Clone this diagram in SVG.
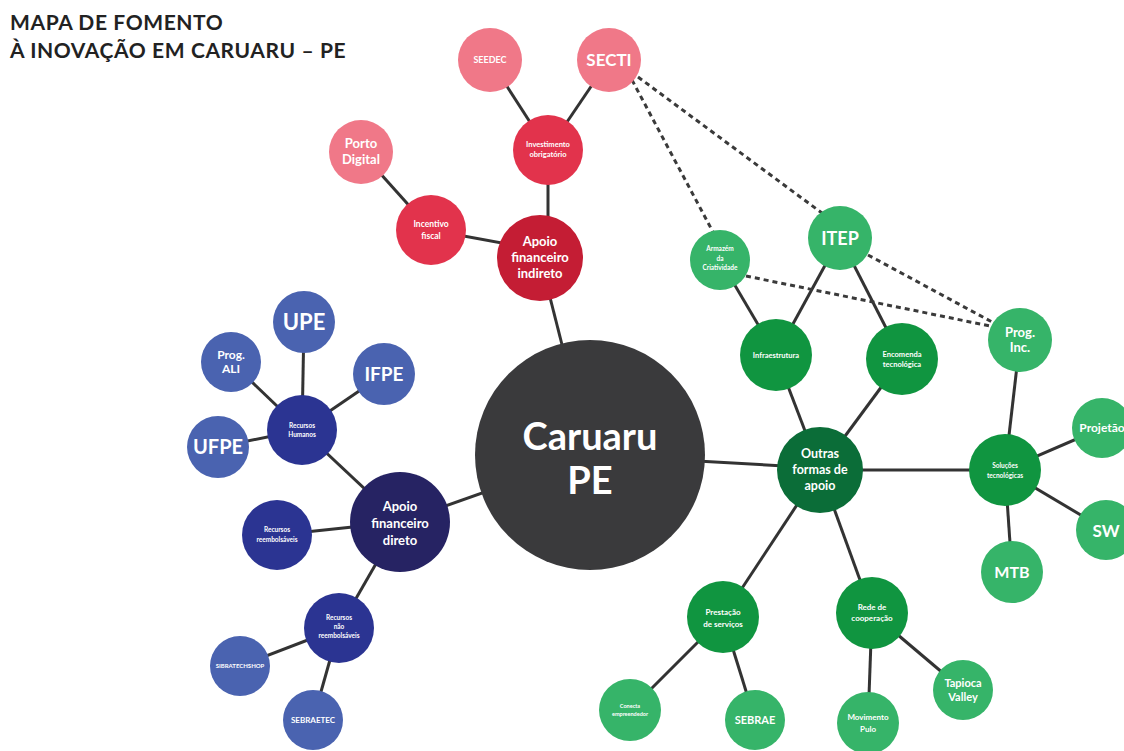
<svg xmlns="http://www.w3.org/2000/svg" width="1124" height="751" viewBox="0 0 1124 751">
<style>
text{font-family:Lato,"Open Sans","DejaVu Sans",sans-serif;font-weight:700;fill:#fff;text-anchor:middle}
.title{fill:#222;text-anchor:start;font-size:21px;font-weight:700;letter-spacing:0.6px}
.e{stroke:#333;stroke-width:3;fill:none}
.d{stroke:#3a3a3a;stroke-width:3;fill:none;stroke-dasharray:5 4}
.pk{fill:#f07888}.rd{fill:#e2334c}.dr{fill:#c41d34}
.lb{fill:#4a63b0}.mb{fill:#2b3492}.nb{fill:#262363}
.lg{fill:#36b469}.mg{fill:#109540}.dg{fill:#0b6d38}
.cc{fill:#3a3a3c}
</style>
<rect width="1124" height="751" fill="#fff"/>
<text class="title" x="10" y="30">MAPA DE FOMENTO</text>
<text class="title" x="10" y="58">À INOVAÇÃO EM CARUARU – PE</text>
<g id="connectors">
<line class="e" x1="490" y1="60" x2="548" y2="150"/>
<line class="e" x1="609" y1="60" x2="548" y2="150"/>
<line class="e" x1="548" y1="150" x2="548" y2="258"/>
<line class="e" x1="361" y1="152" x2="431" y2="230"/>
<line class="e" x1="431" y1="230" x2="540" y2="250"/>
<line class="e" x1="540" y1="258" x2="590" y2="455"/>
<line class="e" x1="231" y1="362" x2="302" y2="430"/>
<line class="e" x1="304" y1="322" x2="302" y2="430"/>
<line class="e" x1="384" y1="374" x2="302" y2="430"/>
<line class="e" x1="218" y1="447" x2="302" y2="430"/>
<line class="e" x1="302" y1="430" x2="400" y2="522"/>
<line class="e" x1="277" y1="535" x2="400" y2="522"/>
<line class="e" x1="400" y1="522" x2="339" y2="628"/>
<line class="e" x1="339" y1="628" x2="240" y2="666"/>
<line class="e" x1="339" y1="628" x2="313" y2="720"/>
<line class="e" x1="400" y1="522" x2="590" y2="455"/>
<line class="e" x1="720" y1="260" x2="776" y2="355"/>
<line class="e" x1="840" y1="238" x2="776" y2="355"/>
<line class="e" x1="840" y1="238" x2="902" y2="359"/>
<line class="e" x1="776" y1="355" x2="820" y2="470"/>
<line class="e" x1="902" y1="359" x2="820" y2="470"/>
<line class="e" x1="590" y1="455" x2="820" y2="468"/>
<line class="e" x1="820" y1="470" x2="1005" y2="470"/>
<line class="e" x1="1020" y1="340" x2="1005" y2="470"/>
<line class="e" x1="1005" y1="470" x2="1102" y2="428"/>
<line class="e" x1="1005" y1="470" x2="1106" y2="530"/>
<line class="e" x1="1005" y1="470" x2="1012" y2="572"/>
<line class="e" x1="820" y1="470" x2="723" y2="617"/>
<line class="e" x1="820" y1="470" x2="872" y2="613"/>
<line class="e" x1="723" y1="617" x2="630" y2="710"/>
<line class="e" x1="723" y1="617" x2="755" y2="720"/>
<line class="e" x1="872" y1="613" x2="868" y2="723"/>
<line class="e" x1="872" y1="613" x2="963" y2="690"/>
<line class="d" x1="632" y1="80" x2="713" y2="232"/>
<line class="d" x1="638" y1="77" x2="826" y2="216"/>
<line class="d" x1="746" y1="276" x2="990" y2="326"/>
<line class="d" x1="868" y1="255" x2="992" y2="322"/>
</g>
<g id="n-seedec"><circle class="pk" cx="490" cy="60" r="32"/><text x="490" y="63" font-size="9">SEEDEC</text></g>
<g id="n-secti"><circle class="pk" cx="609" cy="60" r="32"/><text x="609" y="66" font-size="17">SECTI</text></g>
<g id="n-invest"><circle class="rd" cx="548" cy="150" r="35"/><text x="548" y="147" font-size="7.5">Investimento</text><text x="548" y="157" font-size="7.5">obrigatório</text></g>
<g id="n-porto"><circle class="pk" cx="361" cy="152" r="32"/><text x="361" y="148" font-size="13">Porto</text><text x="361" y="164" font-size="13">Digital</text></g>
<g id="n-incentivo"><circle class="rd" cx="431" cy="230" r="35"/><text x="431" y="227" font-size="8.5">Incentivo</text><text x="431" y="239" font-size="8.5">fiscal</text></g>
<g id="n-indireto"><circle class="dr" cx="540" cy="258" r="43"/><text x="540" y="246" font-size="13">Apoio</text><text x="540" y="262" font-size="13">financeiro</text><text x="540" y="278" font-size="13">indireto</text></g>
<g id="n-caruaru"><circle class="cc" cx="590" cy="455" r="115"/><text x="590" y="450" font-size="38">Caruaru</text><text x="590" y="494" font-size="38">PE</text></g>
<g id="n-upe"><circle class="lb" cx="304" cy="322" r="31"/><text x="304" y="330" font-size="22">UPE</text></g>
<g id="n-ali"><circle class="lb" cx="231" cy="362" r="30"/><text x="231" y="359" font-size="12">Prog.</text><text x="231" y="373" font-size="12">ALI</text></g>
<g id="n-ifpe"><circle class="lb" cx="384" cy="374" r="31"/><text x="384" y="381" font-size="19">IFPE</text></g>
<g id="n-ufpe"><circle class="lb" cx="218" cy="447" r="31"/><text x="218" y="454" font-size="20">UFPE</text></g>
<g id="n-rh"><circle class="mb" cx="302" cy="430" r="35"/><text x="302" y="428" font-size="6.5">Recursos</text><text x="302" y="437" font-size="6.5">Humanos</text></g>
<g id="n-direto"><circle class="nb" cx="400" cy="522" r="50"/><text x="400" y="511" font-size="13">Apoio</text><text x="400" y="528" font-size="13">financeiro</text><text x="400" y="545" font-size="13">direto</text></g>
<g id="n-reemb"><circle class="mb" cx="277" cy="535" r="35"/><text x="277" y="532" font-size="6.5">Recursos</text><text x="277" y="542" font-size="6.5">reembolsáveis</text></g>
<g id="n-naoreemb"><circle class="mb" cx="339" cy="628" r="35"/><text x="339" y="620" font-size="6.5">Recursos</text><text x="339" y="629" font-size="6.5">não</text><text x="339" y="638" font-size="6.5">reembolsáveis</text></g>
<g id="n-sibratec"><circle class="lb" cx="240" cy="666" r="30"/><text x="240" y="668" font-size="6">SIBRATECHSHOP</text></g>
<g id="n-sebraetec"><circle class="lb" cx="313" cy="720" r="30"/><text x="313" y="723" font-size="8">SEBRAETEC</text></g>
<g id="n-armazem"><circle class="lg" cx="720" cy="260" r="30"/><text x="720" y="251" font-size="6.5">Armazém</text><text x="720" y="261" font-size="6.5">da</text><text x="720" y="270" font-size="6.5">Criatividade</text></g>
<g id="n-itep"><circle class="lg" cx="840" cy="238" r="32"/><text x="840" y="245" font-size="18">ITEP</text></g>
<g id="n-infra"><circle class="mg" cx="776" cy="355" r="36"/><text x="776" y="358" font-size="7.5">Infraestrutura</text></g>
<g id="n-encomenda"><circle class="mg" cx="902" cy="359" r="36"/><text x="902" y="357" font-size="7.5">Encomenda</text><text x="902" y="367" font-size="7.5">tecnológica</text></g>
<g id="n-proginc"><circle class="lg" cx="1020" cy="340" r="32"/><text x="1020" y="337" font-size="13">Prog.</text><text x="1020" y="352" font-size="13">Inc.</text></g>
<g id="n-outras"><circle class="dg" cx="820" cy="470" r="43"/><text x="820" y="458" font-size="12.5">Outras</text><text x="820" y="474" font-size="12.5">formas de</text><text x="820" y="490" font-size="12.5">apoio</text></g>
<g id="n-solucoes"><circle class="mg" cx="1005" cy="470" r="36"/><text x="1005" y="468" font-size="6.5">Soluções</text><text x="1005" y="478" font-size="6.5">tecnológicas</text></g>
<g id="n-projetao"><circle class="lg" cx="1102" cy="428" r="30"/><text x="1102" y="432" font-size="12">Projetão</text></g>
<g id="n-sw"><circle class="lg" cx="1106" cy="530" r="30"/><text x="1106" y="537" font-size="17">SW</text></g>
<g id="n-mtb"><circle class="lg" cx="1012" cy="572" r="31"/><text x="1012" y="578" font-size="16">MTB</text></g>
<g id="n-prestacao"><circle class="mg" cx="723" cy="617" r="36"/><text x="723" y="615" font-size="8">Prestação</text><text x="723" y="627" font-size="8">de serviços</text></g>
<g id="n-rede"><circle class="mg" cx="872" cy="613" r="36"/><text x="872" y="610" font-size="8">Rede de</text><text x="872" y="621" font-size="8">cooperação</text></g>
<g id="n-conecta"><circle class="lg" cx="630" cy="710" r="31"/><text x="630" y="708" font-size="5.5">Conecta</text><text x="630" y="716" font-size="5.5">empreendedor</text></g>
<g id="n-sebrae"><circle class="lg" cx="755" cy="720" r="30"/><text x="755" y="724" font-size="11">SEBRAE</text></g>
<g id="n-movimento"><circle class="lg" cx="868" cy="723" r="31"/><text x="868" y="720" font-size="8">Movimento</text><text x="868" y="732" font-size="8">Pulo</text></g>
<g id="n-tapioca"><circle class="lg" cx="963" cy="690" r="30"/><text x="963" y="687" font-size="11">Tapioca</text><text x="963" y="701" font-size="11">Valley</text></g>
</svg>
